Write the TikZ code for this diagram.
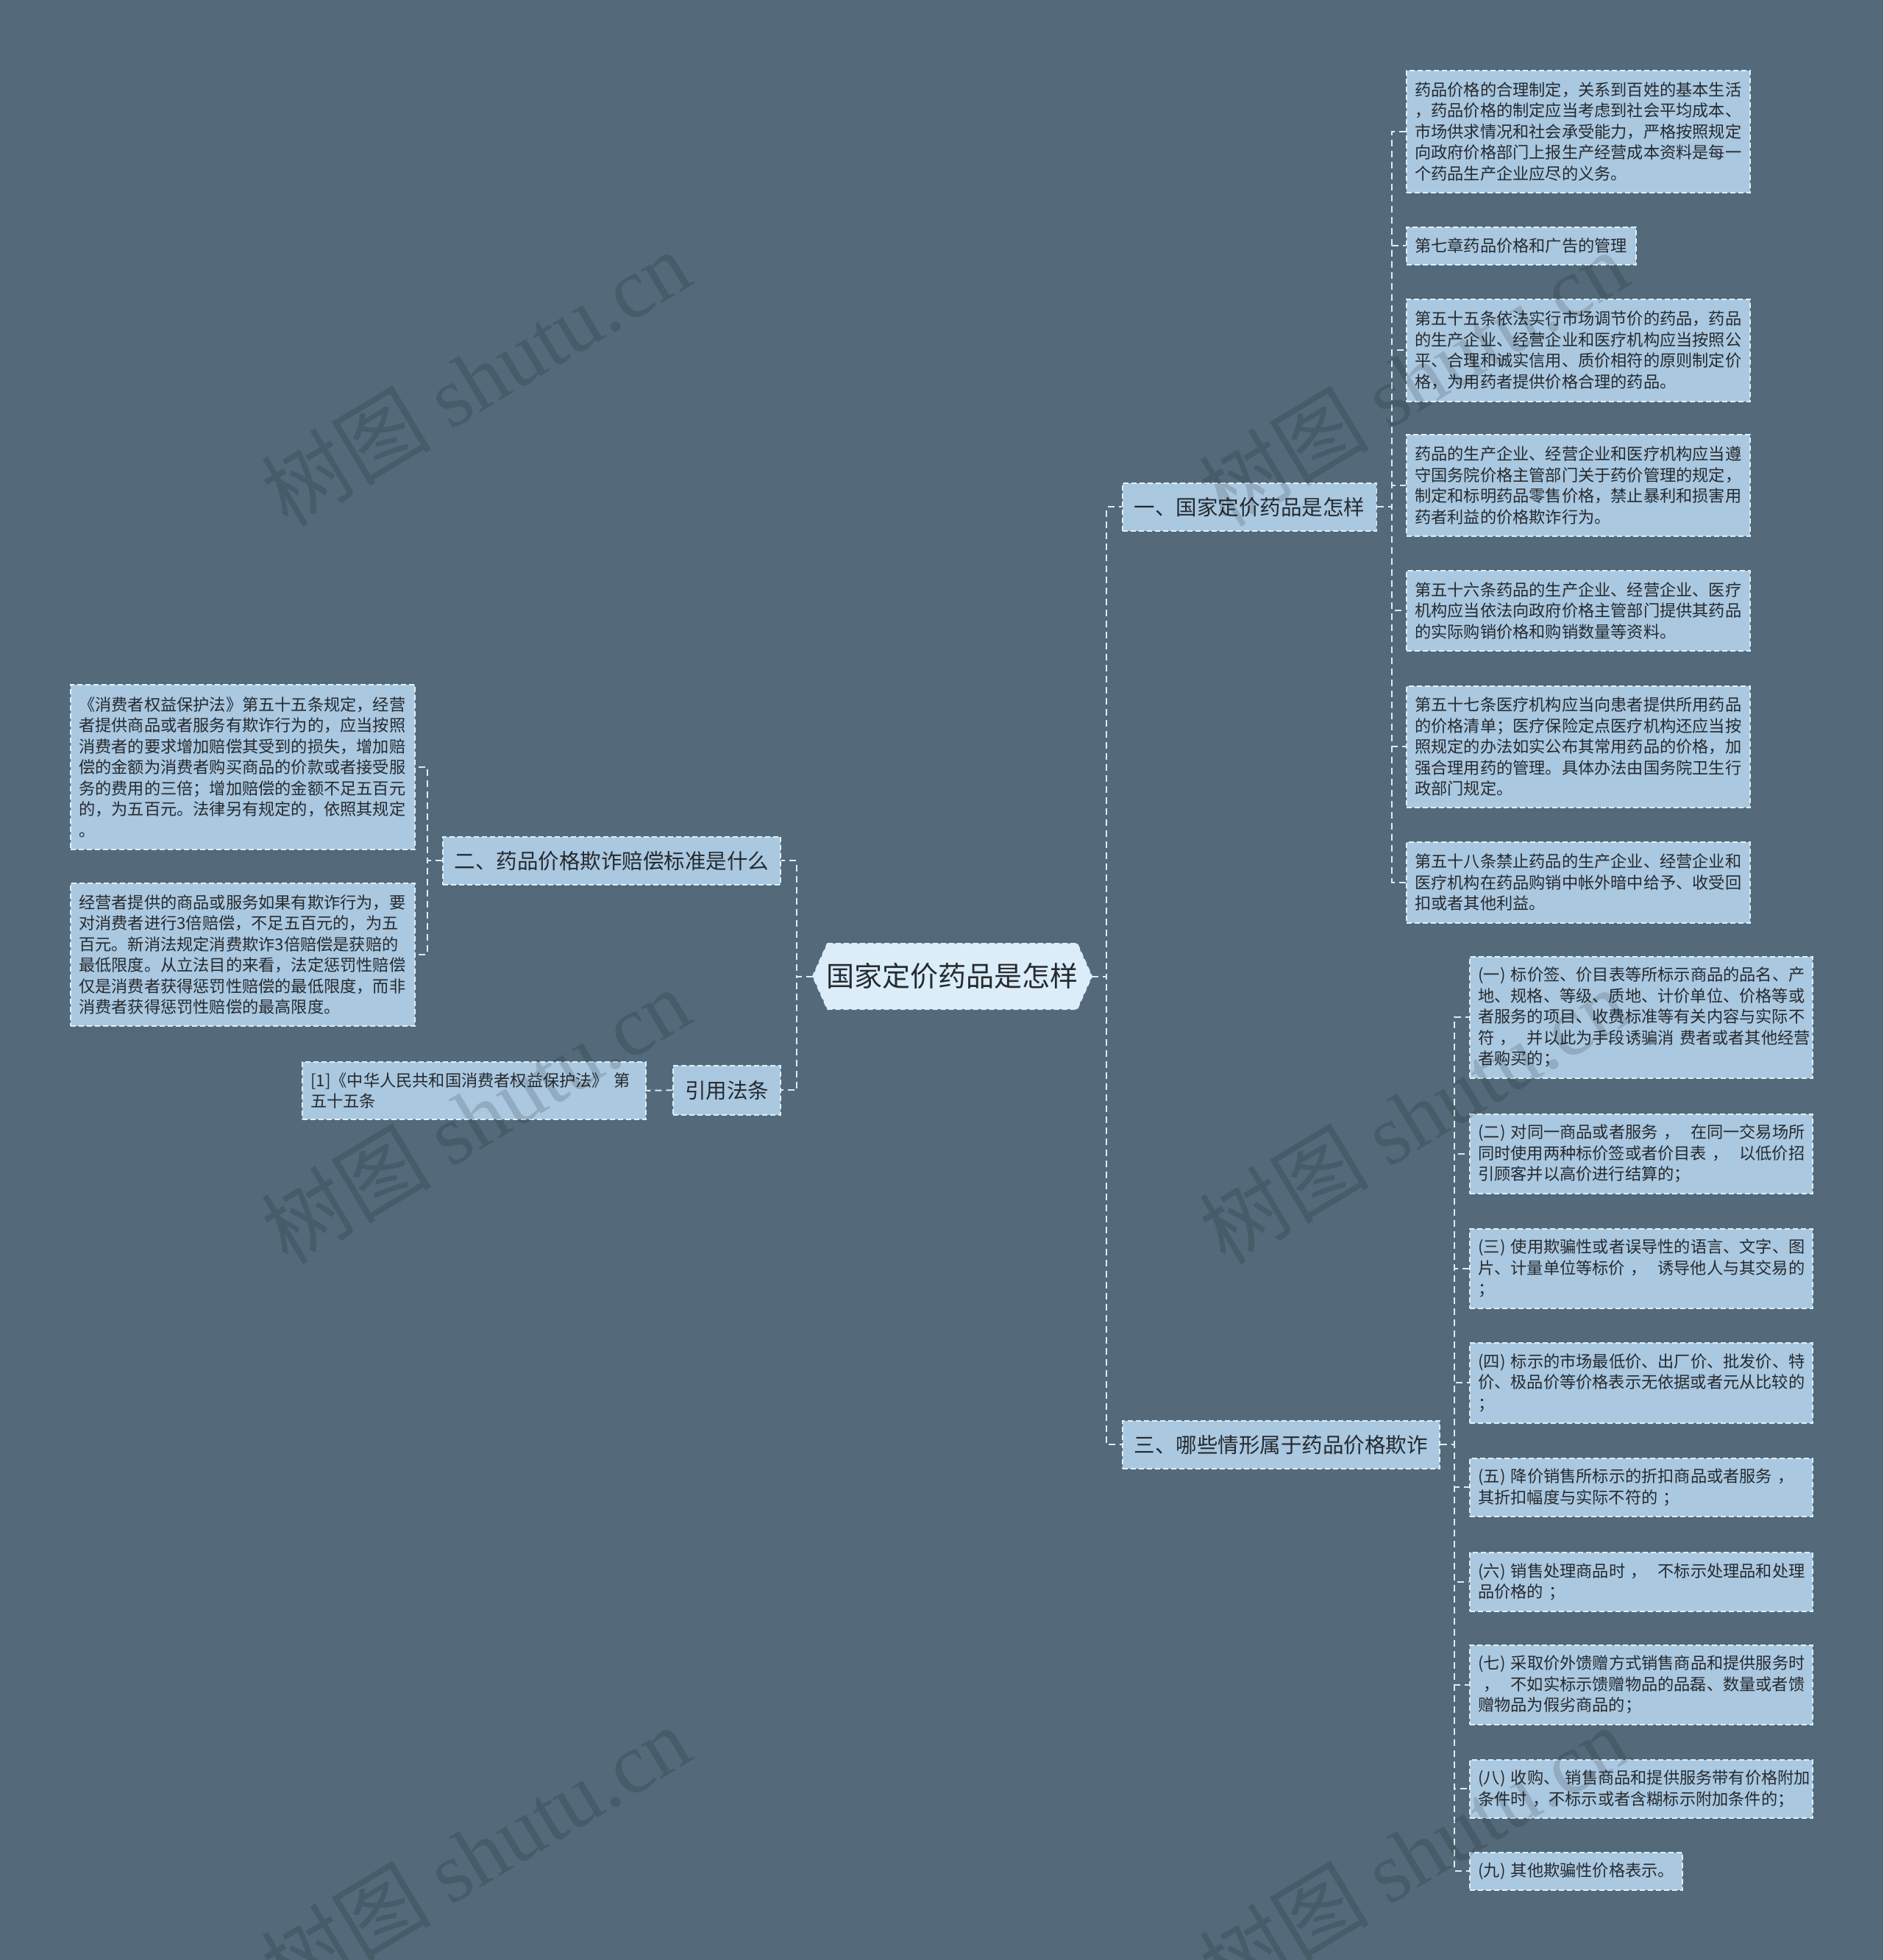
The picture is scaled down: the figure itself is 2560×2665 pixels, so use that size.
\documentclass[tikz,border=0pt]{standalone}
\usepackage{fontspec}
\setmainfont{Noto Sans CJK SC}
\newfontfamily\wmlatin{Liberation Serif}
\usetikzlibrary{calc}
\hfuzz=100pt
\hbadness=100000
\definecolor{bgcol}{RGB}{84,106,122}
\definecolor{leafcol}{RGB}{170,200,224}
\definecolor{rootcol}{RGB}{218,237,248}
\definecolor{bordercol}{RGB}{222,240,250}
\definecolor{linecol}{RGB}{222,236,244}
\definecolor{txtcol}{RGB}{38,42,46}
\tikzset{
  leaf/.style={draw=bordercol, dash pattern=on 7pt off 4pt, line width=1.6pt, fill=leafcol,
    text=txtcol, font=\fontsize{22.2pt}{28.5pt}\selectfont, align=left, anchor=north west,
    inner xsep=11.5pt, inner ysep=0pt},
  topic/.style={draw=bordercol, dash pattern=on 7pt off 4pt, line width=1.6pt, fill=leafcol,
    text=txtcol, font=\fontsize{28.5pt}{34pt}\selectfont, inner xsep=16pt, inner ysep=0pt,
    minimum height=65pt},
  conn/.style={draw=linecol, line width=2pt, dash pattern=on 9pt off 6pt},
  wm/.style={text=black, opacity=0.14, font=\fontsize{116pt}{120pt}\selectfont, inner sep=0pt}
}
\begin{document}
\begin{tikzpicture}[x=1pt,y=-1pt]
\fill[bgcol] (0,0) rectangle (2560,2665);
\useasboundingbox (0,0) rectangle (2560,2665);

% root (frame node)
\node[inner sep=0pt, minimum width=379pt, minimum height=89pt] (root) at (1294.5,1327.5) {};

% level 1
\node[topic, anchor=north west] (t1) at (1525,656) {一、国家定价药品是怎样};
\node[topic, anchor=north west] (t3) at (1525,1931) {三、哪些情形属于药品价格欺诈};
\node[topic, anchor=north east] (t2) at (1062,1137) {二、药品价格欺诈赔偿标准是什么};
\node[topic, anchor=north east, minimum height=67pt] (t4) at (1062,1448) {引用法条};

% leaves of t1
\node[leaf, text width=444pt, minimum height=166pt] (r1) at (1911,95) {药品价格的合理制定，关系到百姓的基本生活\\，药品价格的制定应当考虑到社会平均成本、\\市场供求情况和社会承受能力，严格按照规定\\向政府价格部门上报生产经营成本资料是每一\\个药品生产企业应尽的义务。};
\node[leaf, text width=289pt, minimum height=51pt] (r2) at (1911,308) {第七章药品价格和广告的管理};
\node[leaf, text width=444pt, minimum height=139pt] (r3) at (1911,406) {第五十五条依法实行市场调节价的药品，药品\\的生产企业、经营企业和医疗机构应当按照公\\平、合理和诚实信用、质价相符的原则制定价\\格，为用药者提供价格合理的药品。};
\node[leaf, text width=444pt, minimum height=138pt] (r4) at (1911,590) {药品的生产企业、经营企业和医疗机构应当遵\\守国务院价格主管部门关于药价管理的规定，\\制定和标明药品零售价格，禁止暴利和损害用\\药者利益的价格欺诈行为。};
\node[leaf, text width=444pt, minimum height=109pt] (r5) at (1911,775) {第五十六条药品的生产企业、经营企业、医疗\\机构应当依法向政府价格主管部门提供其药品\\的实际购销价格和购销数量等资料。};
\node[leaf, text width=444pt, minimum height=165pt] (r6) at (1911,932) {第五十七条医疗机构应当向患者提供所用药品\\的价格清单；医疗保险定点医疗机构还应当按\\照规定的办法如实公布其常用药品的价格，加\\强合理用药的管理。具体办法由国务院卫生行\\政部门规定。};
\node[leaf, text width=444pt, minimum height=110pt] (r7) at (1911,1144) {第五十八条禁止药品的生产企业、经营企业和\\医疗机构在药品购销中帐外暗中给予、收受回\\扣或者其他利益。};

% leaves of t3
\node[leaf, text width=443pt, minimum height=165pt] (s1) at (1997,1300) {(一)~标价签、价目表等所标示商品的品名、产\\地、规格、等级、质地、计价单位、价格等或\\者服务的项目、收费标准等有关内容与实际不\\符~，~~并以此为手段诱骗消~费者或者其他经营\\者购买的；};
\node[leaf, text width=443pt, minimum height=108pt] (s2) at (1997,1514) {(二)~对同一商品或者服务~，~~在同一交易场所\\同时使用两种标价签或者价目表~，~~以低价招\\引顾客并以高价进行结算的；};
\node[leaf, text width=443pt, minimum height=108pt] (s3) at (1997,1670) {(三)~使用欺骗性或者误导性的语言、文字、图\\片、计量单位等标价~，~~诱导他人与其交易的\\；};
\node[leaf, text width=443pt, minimum height=109pt] (s4) at (1997,1825) {(四)~标示的市场最低价、出厂价、批发价、特\\价、极品价等价格表示无依据或者元从比较的\\；};
\node[leaf, text width=443pt, minimum height=79pt] (s5) at (1997,1982) {(五)~降价销售所标示的折扣商品或者服务~，\\其折扣幅度与实际不符的~；};
\node[leaf, text width=443pt, minimum height=80pt] (s6) at (1997,2110) {(六)~销售处理商品时~，~~不标示处理品和处理\\品价格的~；};
\node[leaf, text width=443pt, minimum height=108pt] (s7) at (1997,2236) {(七)~采取价外馈赠方式销售商品和提供服务时\\~，~~不如实标示馈赠物品的品磊、数量或者馈\\赠物品为假劣商品的；};
\node[leaf, text width=443pt, minimum height=79pt] (s8) at (1997,2392) {(八)~收购、~销售商品和提供服务带有价格附加\\条件时~，不标示或者含糊标示附加条件的；};
\node[leaf, text width=266pt, minimum height=51pt] (s9) at (1997,2518) {(九)~其他欺骗性价格表示。};

% leaves of t2
\node[leaf, text width=445pt, minimum height=224pt] (l1) at (95,930) {《消费者权益保护法》第五十五条规定，经营\\者提供商品或者服务有欺诈行为的，应当按照\\消费者的要求增加赔偿其受到的损失，增加赔\\偿的金额为消费者购买商品的价款或者接受服\\务的费用的三倍；增加赔偿的金额不足五百元\\的，为五百元。法律另有规定的，依照其规定\\。};
\node[leaf, text width=445pt, minimum height=194pt] (l2) at (95,1200) {经营者提供的商品或服务如果有欺诈行为，要\\对消费者进行3倍赔偿，不足五百元的，为五\\百元。新消法规定消费欺诈3倍赔偿是获赔的\\最低限度。从立法目的来看，法定惩罚性赔偿\\仅是消费者获得惩罚性赔偿的最低限度，而非\\消费者获得惩罚性赔偿的最高限度。};

% citation
\node[leaf, text width=444pt, minimum height=78pt] (c1) at (410,1443) {[1]《中华人民共和国消费者权益保护法》~第\\五十五条};

% root shape
\filldraw[fill=rootcol, draw=bordercol, line width=1.6pt, dash pattern=on 7pt off 4pt]
  ([xshift=20pt]root.north west) -- ([xshift=-20pt]root.north east) -- (root.east)
  -- ([xshift=-20pt]root.south east) -- ([xshift=20pt]root.south west) -- (root.west) -- cycle;
\node[inner sep=0pt, text=txtcol, font=\fontsize{38pt}{42pt}\selectfont] (rootlabel) at (root.center) {国家定价药品是怎样};

% connectors
\draw[conn] (root.east) -- ++(20,0) |- (t1.west);
\draw[conn] (root.east) -- ++(20,0) |- (t3.west);
\draw[conn] (root.west) -- ++(-22,0) |- (t2.east);
\draw[conn] (root.west) -- ++(-22,0) |- (t4.east);
\foreach \n in {r1,r2,r3,r4,r5,r6,r7}{
  \draw[conn] (t1.east) -- ++(20,0) |- (\n.west);
}
\foreach \n in {s1,s2,s3,s4,s5,s6,s7,s8,s9}{
  \draw[conn] (t3.east) -- ++(19,0) |- (\n.west);
}
\foreach \n in {l1,l2}{
  \draw[conn] (t2.west) -- ++(-20,0) |- (\n.east);
}
\draw[conn] (t4.west) -- (c1.east);

% watermarks
\node[wm, rotate=31] (wm1) at (646,514) {树图 {\wmlatin shutu.cn}};
\node[wm, rotate=31] (wm2) at (646,1517) {树图 {\wmlatin shutu.cn}};
\node[wm, rotate=31] (wm3) at (646,2520) {树图 {\wmlatin shutu.cn}};
\node[wm, rotate=31] (wm4) at (1921,514) {树图 {\wmlatin shutu.cn}};
\node[wm, rotate=31] (wm5) at (1921,1517) {树图 {\wmlatin shutu.cn}};
\node[wm, rotate=31] (wm6) at (1921,2520) {树图 {\wmlatin shutu.cn}};
\end{tikzpicture}
\end{document}
